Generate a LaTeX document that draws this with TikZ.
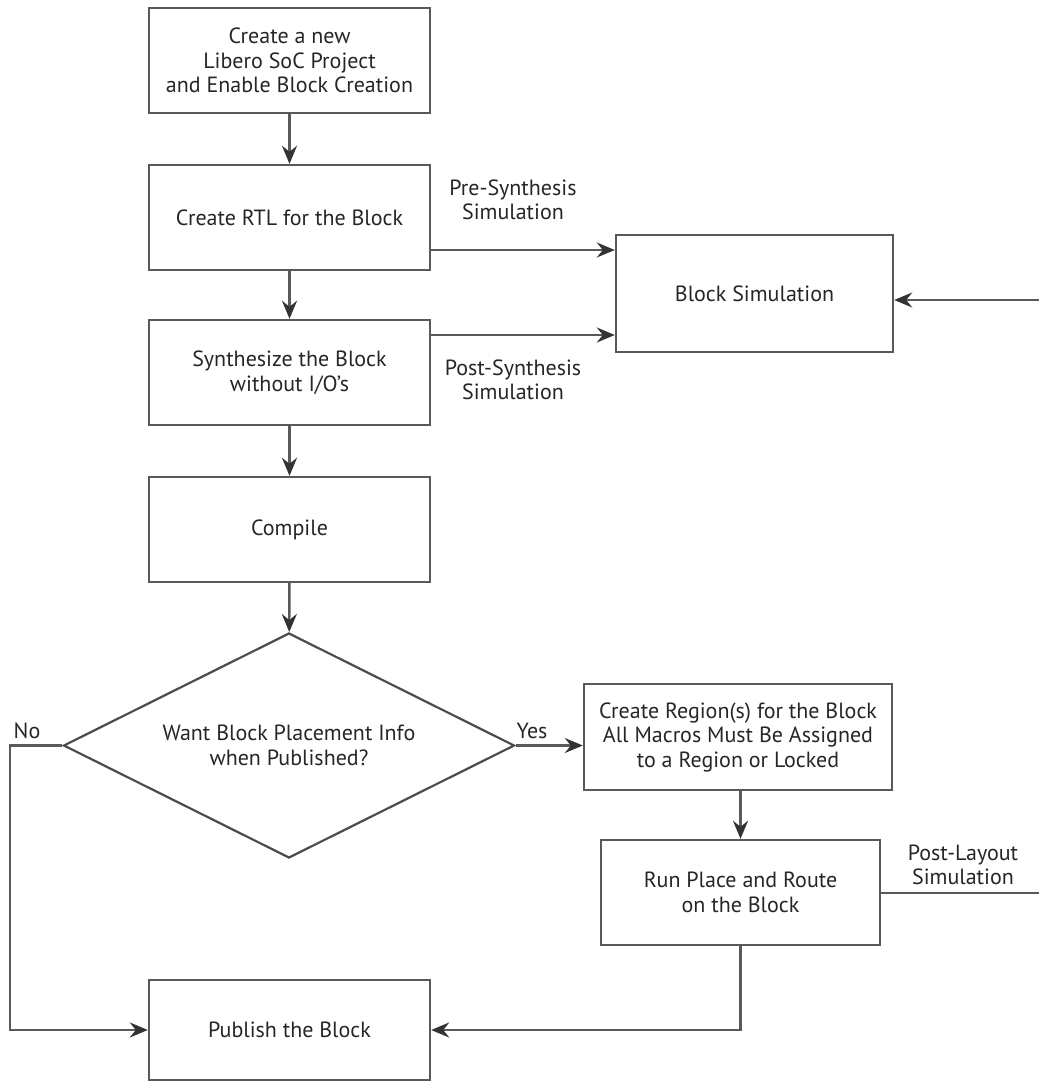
\documentclass[tikz,border=0pt]{standalone}
\usepackage{fontspec}
\setmainfont{PT Sans}
\usetikzlibrary{shapes.geometric,arrows.meta}
\begin{document}
\begin{tikzpicture}[x=1pt,y=-1pt,
  every node/.style={font=\fontsize{22}{24.5}\selectfont, text=black!85},
  box/.style={draw=black!65, line width=2.4pt, align=center, inner sep=2pt},
  dec/.style={draw=black!70, line width=2.2pt, diamond, shape aspect=2, inner sep=0pt, align=center, minimum width=451, minimum height=225},
  lbl/.style={align=center, inner sep=0pt},
  flow/.style={draw=black!65, line width=2.4pt, -{Stealth[length=18pt,width=15pt,inset=6pt,black!80]}},
  line/.style={draw=black!65, line width=2.4pt}]
\useasboundingbox (0,0) rectangle (1039,1083);
\node[box, minimum width=281, minimum height=105] (b1) at (289.5,60.5) {Create a new\\Libero SoC Project\\and Enable Block Creation};
\node[box, minimum width=281, minimum height=105] (b2) at (289.5,217.5) {Create RTL for the Block};
\node[box, minimum width=281, minimum height=105] (b3) at (289.5,372.5) {Synthesize the Block\\without I/O's};
\node[box, minimum width=281, minimum height=105] (b4) at (289.5,529.5) {Compile};
\node[dec] (d) at (289,745.5) {Want Block Placement Info\\when Published?};
\node[box, minimum width=308, minimum height=106] (r) at (738,737) {Create Region(s) for the Block\\All Macros Must Be Assigned\\to a Region or Locked};
\node[box, minimum width=279, minimum height=105] (pr) at (740.5,892.5) {Run Place and Route\\on the Block};
\node[box, minimum width=281, minimum height=100] (pub) at (289.5,1030) {Publish the Block};
\node[box, minimum width=277, minimum height=117] (sim) at (754.5,293.5) {Block Simulation};

\coordinate (ein) at (1039,300);
\coordinate (eout) at (1039,893);
\coordinate (nocorner) at (10,745.5);

\draw[flow] (b1) -- (b2);
\draw[flow] (b2) -- (b3);
\draw[flow] (b3) -- (b4);
\draw[flow] (b4) -- (d);
\draw[flow] (b2.east |- 0,250) -- (sim.west |- 0,250);
\draw[flow] (b3.east |- 0,335) -- (sim.west |- 0,335);
\draw[flow] (ein) -- (sim.east |- ein);
\draw[flow] (d.east) -- (r.west |- d.east);
\draw[flow] (r.south -| pr.north) -- (pr.north);
\draw[line] (pr.east |- eout) -- (eout);
\draw[flow] (d.west) -- (nocorner) |- (pub.west);
\draw[flow] (pr.south) |- (pub.east);

\node[lbl] (l1) at (513,200) {Pre-Synthesis\\Simulation};
\node[lbl] (l2) at (513,380) {Post-Synthesis\\Simulation};
\node[lbl] (l3) at (963,865) {Post-Layout\\Simulation};
\node[lbl] (lno) at (27,731) {No};
\node[lbl] (lyes) at (532,731) {Yes};
\end{tikzpicture}
\end{document}
